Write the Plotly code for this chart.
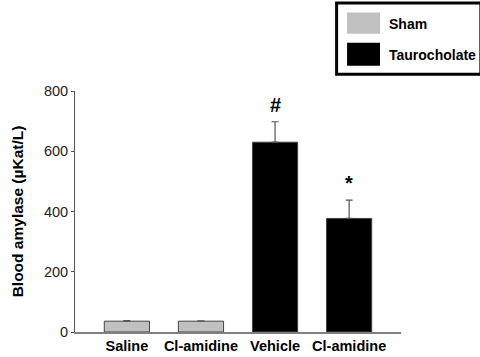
import plotly.graph_objects as go

categories = ["Saline", "Cl-amidine", "Vehicle", "Cl-amidine "]
groups = ["Sham", "Sham", "Taurocholate", "Taurocholate"]
values = [36, 36, 630, 377]
errors = [2, 1, 68, 61]
marks = ["", "", "#", "*"]
group_colors = {"Sham": "#c0c0c0", "Taurocholate": "#000000"}
y_ticks = [0, 200, 400, 600, 800]

FONT = "Arial, Liberation Sans, sans-serif"

fig = go.Figure()
fig.add_trace(go.Bar(
    x=list(range(len(categories))),
    y=values,
    width=0.61,
    marker=dict(color=[group_colors[g] for g in groups],
                line=dict(color="#444444", width=1)),
    error_y=dict(type="data", symmetric=False, array=errors,
                 arrayminus=[0] * len(errors), color="#555555",
                 thickness=1.2, width=3.5),
    showlegend=False,
))

for i, (v, e, m) in enumerate(zip(values, errors, marks)):
    if m:
        fig.add_annotation(x=i, y=v + e, text="<b>%s</b>" % m, showarrow=False,
                           yanchor="bottom", yshift=4,
                           font=dict(family=FONT, size=20, color="black"))

# Legend box
fig.add_shape(type="rect", xref="paper", yref="paper",
              x0=(336.5 - 74.5) / 326.5, x1=(481 - 74.5) / 326.5,
              y0=(332 - 74.5) / 240.7, y1=(332 - 3.5) / 240.7,
              line=dict(color="black", width=3), fillcolor="white")
legend_items = [("Sham", 13, 34, 24), ("Taurocholate", 43, 66, 55)]
for name, top, bot, cy in legend_items:
    fig.add_shape(type="rect", xref="paper", yref="paper",
                  x0=(347 - 74.5) / 326.5, x1=(380 - 74.5) / 326.5,
                  y0=(332 - bot) / 240.7, y1=(332 - top) / 240.7,
                  line=dict(width=0), fillcolor=group_colors[name])
    fig.add_annotation(xref="paper", yref="paper",
                       x=(387 - 74.5) / 326.5, y=(332 - cy) / 240.7,
                       xanchor="left", yanchor="middle", showarrow=False,
                       text="<b>%s</b>" % name,
                       font=dict(family=FONT, size=14, color="black"))

fig.update_layout(
    width=480, height=357,
    margin=dict(l=74.5, r=79, t=91.3, b=25, pad=0),
    paper_bgcolor="white", plot_bgcolor="white",
    font=dict(family=FONT, color="black"),
    xaxis=dict(range=[-0.7, 3.7], tickmode="array",
               tickvals=list(range(len(categories))),
               ticktext=["<b>%s</b>" % c.strip() for c in categories],
               showline=True, linecolor="#808080", linewidth=1.5,
               ticks="", showgrid=False, zeroline=False,
               automargin=False, ticklabelstandoff=0,
               tickfont=dict(family=FONT, size=14.5, color="black")),
    yaxis=dict(range=[0, 800], tickvals=y_ticks,
               showline=True, linecolor="#555555", linewidth=1,
               ticks="outside", ticklen=3, tickcolor="#555555",
               showgrid=False, zeroline=False, automargin=False,
               tickfont=dict(family=FONT, size=14.5, color="#222222"),
               title=dict(text="<b>Blood amylase (µKat/L)</b>",
                          font=dict(family=FONT, size=15.5, color="black"),
                          standoff=16)),
)

fig.write_html("out.html")
